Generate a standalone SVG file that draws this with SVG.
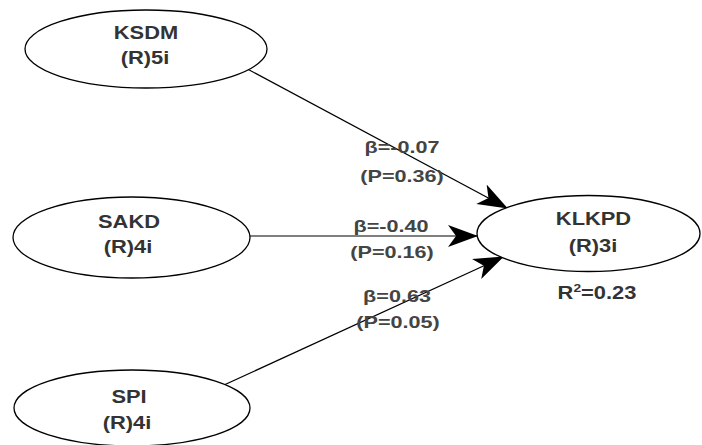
<svg xmlns="http://www.w3.org/2000/svg" width="702" height="445" viewBox="0 0 702 445">
<style>
.node ellipse{fill:#fff;stroke:#000;stroke-width:1.3}
.nt{font-family:"Liberation Sans",Arial,sans-serif;font-weight:bold;font-size:17.5px;fill:#333;text-anchor:middle}
.lt{font-family:"Liberation Sans",Arial,sans-serif;font-weight:bold;font-size:17px;fill:#444;text-anchor:middle}
.edges line{stroke:#000;stroke-width:1.2;marker-end:url(#ah)}
</style>
<defs>
<marker id="ah" markerWidth="30" markerHeight="24" viewBox="0 0 30 24" refX="29" refY="12" orient="auto" markerUnits="userSpaceOnUse">
<path d="M0,1 L30,12 L0,23 L8,12 Z" fill="#000"/>
</marker>
</defs>
<rect width="702" height="445" fill="#fff"/>
<g class="edges">
<line x1="240" y1="65" x2="507" y2="208"/>
<line x1="250" y1="236" x2="477" y2="236"/>
<line x1="224" y1="385" x2="503" y2="257"/>
</g>
<g id="KSDM" class="node">
<ellipse cx="146" cy="49" rx="121" ry="39"/>
<text class="nt" transform="matrix(1.25 0 0 1 146 39)">KSDM</text>
<text class="nt" transform="matrix(1.25 0 0 1 145 64)">(R)5i</text>
</g>
<g id="SAKD" class="node">
<ellipse cx="131.5" cy="237.5" rx="118.5" ry="40.5"/>
<text class="nt" transform="matrix(1.25 0 0 1 129 228)">SAKD</text>
<text class="nt" transform="matrix(1.25 0 0 1 128 253)">(R)4i</text>
</g>
<g id="SPI" class="node">
<ellipse cx="132" cy="408" rx="118" ry="38"/>
<text class="nt" transform="matrix(1.25 0 0 1 129 403)">SPI</text>
<text class="nt" transform="matrix(1.25 0 0 1 127 429)">(R)4i</text>
</g>
<g id="KLKPD" class="node">
<ellipse cx="588.5" cy="233.5" rx="111.5" ry="38"/>
<text class="nt" transform="matrix(1.25 0 0 1 593.5 225)">KLKPD</text>
<text class="nt" transform="matrix(1.25 0 0 1 593 252)">(R)3i</text>
<text class="nt" transform="matrix(1.25 0 0 1 597 299)">R<tspan dy="-7" font-size="11">2</tspan><tspan dy="7">=0.23</tspan></text>
</g>
<g id="labels">
<text class="lt" transform="matrix(1.27 0 0 1 402 153)">β=-0.07</text>
<text class="lt" transform="matrix(1.27 0 0 1 402 182)">(P=0.36)</text>
<text class="lt" transform="matrix(1.27 0 0 1 391 232)">β=-0.40</text>
<text class="lt" transform="matrix(1.27 0 0 1 392 258)">(P=0.16)</text>
<text class="lt" transform="matrix(1.27 0 0 1 397 302)">β=0.63</text>
<text class="lt" transform="matrix(1.27 0 0 1 398 328)">(P=0.05)</text>
</g>
</svg>
